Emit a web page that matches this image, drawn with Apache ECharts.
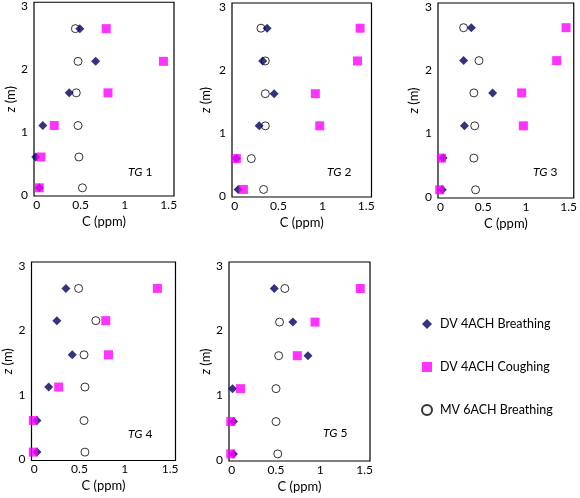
<!DOCTYPE html>
<html>
<head>
<meta charset="utf-8">
<script src="https://cdn.jsdelivr.net/npm/echarts@6/dist/echarts.min.js"></script>
<style>
html,body{margin:0;padding:0;background:#fff;}
#chart{width:580px;height:498px;}
</style>
</head>
<body>
<div id="chart"></div>
<script>
// ---- data ----
const seriesNames = ['DV 4ACH Breathing', 'DV 4ACH Coughing', 'MV 6ACH Breathing'];
const panelLabels = ['1', '2', '3', '4', '5'];
const xTicks = [0, 0.5, 1, 1.5];
const yTicks = [0, 1, 2, 3];

// heights z (m), bottom to top
const zTG1 = [0.11, 0.60, 1.10, 1.62, 2.12, 2.64];
const zTG2 = [0.10, 0.59, 1.11, 1.62, 2.14, 2.66];
const zTG3 = [0.11, 0.61, 1.12, 1.64, 2.15, 2.67];
const zTG4 = [0.11, 0.60, 1.12, 1.62, 2.15, 2.65];
const zTG5 = [0.09, 0.59, 1.10, 1.61, 2.13, 2.65];

// concentrations C (ppm), same order as heights
const dvBreathTG1 = [0.03, -0.01, 0.07, 0.37, 0.67, 0.49];
const dvCoughTG1  = [0.03, 0.05, 0.20, 0.81, 1.44, 0.79];
const mvBreathTG1 = [0.52, 0.48, 0.47, 0.45, 0.47, 0.44];

const dvBreathTG2 = [0.04, 0.02, 0.28, 0.45, 0.32, 0.37];
const dvCoughTG2  = [0.10, 0.02, 0.97, 0.92, 1.40, 1.43];
const mvBreathTG2 = [0.33, 0.19, 0.35, 0.35, 0.35, 0.30];

const dvBreathTG3 = [0.02, 0.03, 0.28, 0.61, 0.27, 0.36];
const dvCoughTG3  = [-0.01, 0.01, 0.97, 0.95, 1.36, 1.47];
const mvBreathTG3 = [0.41, 0.39, 0.40, 0.39, 0.45, 0.27];

const dvBreathTG4 = [0.03, 0.03, 0.16, 0.42, 0.25, 0.35];
const dvCoughTG4  = [-0.01, -0.01, 0.27, 0.82, 0.79, 1.36];
const mvBreathTG4 = [0.56, 0.55, 0.56, 0.55, 0.68, 0.49];

const dvBreathTG5 = [0.02, 0.02, 0.01, 0.86, 0.69, 0.48];
const dvCoughTG5  = [-0.01, -0.01, 0.10, 0.74, 0.94, 1.45];
const mvBreathTG5 = [0.52, 0.50, 0.50, 0.53, 0.54, 0.60];

const heights = [zTG1, zTG2, zTG3, zTG4, zTG5];
const dvBreath = [dvBreathTG1, dvBreathTG2, dvBreathTG3, dvBreathTG4, dvBreathTG5];
const dvCough = [dvCoughTG1, dvCoughTG2, dvCoughTG3, dvCoughTG4, dvCoughTG5];
const mvBreath = [mvBreathTG1, mvBreathTG2, mvBreathTG3, mvBreathTG4, mvBreathTG5];

// ---- layout ----
const FONT = 'Lato';
const TXT = '#000';
const grids = [
  {left: 34,   top: 2,   width: 140,   height: 194},
  {left: 232,  top: 3,   width: 139.5, height: 194},
  {left: 438,  top: 3,   width: 137.5, height: 195},
  {left: 31.5, top: 262, width: 144,   height: 198.5},
  {left: 229,  top: 262, width: 141,   height: 199}
];
const yNameGaps = [15, 20, 18, 15, 16];
const tgPos = [[128, 172], [327, 172], [533, 172], [128, 434], [323, 433]];

const option = {
  animation: false,
  backgroundColor: '#fff',
  textStyle: {fontFamily: FONT},
  grid: grids.map(g => Object.assign({show: true, borderColor: '#000', borderWidth: 1.2, backgroundColor: 'transparent', containLabel: false}, g)),
  xAxis: grids.map((g, i) => ({
    gridIndex: i, type: 'value', min: -0.03, max: 1.56,
    name: 'C (ppm)', nameLocation: 'middle', nameGap: 19,
    nameTextStyle: {fontFamily: FONT, fontSize: 13, color: TXT},
    axisLine: {show: false}, axisTick: {show: false}, splitLine: {show: false},
    axisLabel: {customValues: xTicks, margin: 3, fontFamily: FONT, fontSize: 12, color: TXT,
      formatter: v => String(v)}
  })),
  yAxis: grids.map((g, i) => ({
    gridIndex: i, type: 'value', min: -0.02, max: 3.06,
    name: '{i|z} (m)', nameLocation: 'middle', nameGap: yNameGaps[i],
    nameTextStyle: {fontFamily: FONT, fontSize: 13, color: TXT,
      rich: {i: {fontStyle: 'italic', fontFamily: FONT, fontSize: 13, color: TXT}}},
    axisLine: {show: false}, axisTick: {show: false}, splitLine: {show: false},
    axisLabel: {customValues: yTicks, margin: 6, fontFamily: FONT, fontSize: 12, color: TXT,
      formatter: v => String(v)}
  })),
  legend: {
    orient: 'vertical', left: 416, top: 311, itemGap: 27,
    itemWidth: 10, itemHeight: 10,
    data: seriesNames,
    textStyle: {fontFamily: FONT, fontSize: 12.5, color: TXT, lineHeight: 16, padding: [0, 0, 0, 3]}
  },
  graphic: tgPos.map((p, i) => ({
    type: 'text', x: p[0], y: p[1],
    style: {
      text: '{i|TG} ' + panelLabels[i],
      font: '12px ' + FONT, fill: TXT, verticalAlign: 'middle', align: 'left',
      rich: {i: {fontStyle: 'italic', fontFamily: FONT, fontSize: 12, fill: TXT, color: TXT}}
    }
  })),
  series: []
};

for (let i = 0; i < 5; i++) {
  option.series.push({
    name: seriesNames[2], type: 'scatter', xAxisIndex: i, yAxisIndex: i,
    symbol: 'circle', symbolSize: 8,
    itemStyle: {color: '#fff', borderColor: '#000', borderWidth: 1},
    data: mvBreath[i].map((c, k) => [c, heights[i][k]]), z: 2
  });
  option.series.push({
    name: seriesNames[0], type: 'scatter', xAxisIndex: i, yAxisIndex: i,
    symbol: 'diamond', symbolSize: 9,
    itemStyle: {color: '#00005e'},
    data: dvBreath[i].map((c, k) => [c, heights[i][k]]), z: 3
  });
  option.series.push({
    name: seriesNames[1], type: 'scatter', xAxisIndex: i, yAxisIndex: i,
    symbol: 'rect', symbolSize: 9,
    itemStyle: {color: '#ff00ff'},
    data: dvCough[i].map((c, k) => [c, heights[i][k]]), z: 4
  });
}

const chart = echarts.init(document.getElementById('chart'), null, {renderer: 'canvas'});
chart.setOption(option);
</script>
</body>
</html>
